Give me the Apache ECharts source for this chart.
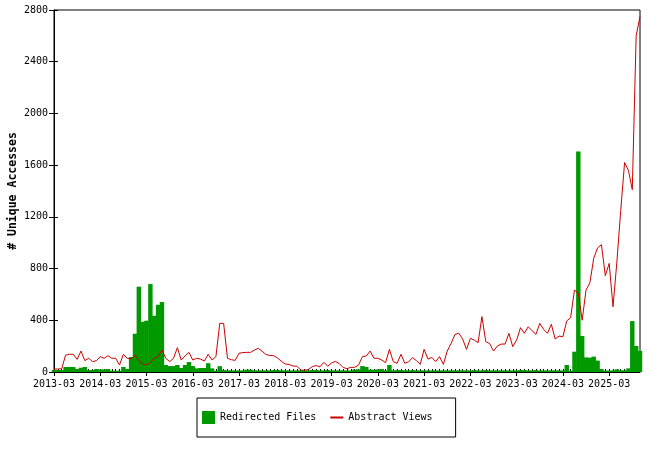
<!DOCTYPE html>
<html>
<head>
<meta charset="utf-8">
<script src="https://cdn.jsdelivr.net/npm/echarts@6/dist/echarts.min.js"></script>
<style>
  html, body { margin: 0; padding: 0; background: #fff; }
  #chart { width: 650px; height: 450px; }
</style>
</head>
<body>
<div id="chart"></div>
<script>
  // monthly, 2013-03 .. 2025-11
  const startYear = 2013, startMonth = 3, monthCount = 153
  const yTicks = [0, 400, 800, 1200, 1600, 2000, 2400, 2800]

  const redirectedFiles = [
    15, 15, 15, 39, 39, 39, 23, 33, 39, 15,
    15, 23, 20, 20, 23, 10, 10, 10, 39, 23,
    116, 296, 660, 389, 397, 680, 435, 520, 541, 54,
    46, 46, 54, 31, 54, 77, 46, 28, 31, 31,
    68, 28, 10, 45, 15, 12, 12, 12, 12, 12,
    18, 18, 12, 12, 12, 12, 12, 15, 15, 12,
    12, 12, 12, 12, 12, 12, 12, 15, 15, 12,
    12, 15, 12, 12, 12, 12, 12, 12, 20, 20,
    46, 39, 18, 18, 20, 23, 12, 54, 12, 15,
    15, 12, 12, 15, 12, 12, 12, 12, 12, 12,
    12, 12, 12, 12, 12, 12, 12, 12, 12, 15,
    12, 12, 15, 12, 12, 12, 12, 12, 12, 12,
    12, 15, 15, 12, 12, 15, 12, 12, 12, 12,
    12, 12, 12, 54, 10, 157, 1705, 278, 113, 111,
    119, 88, 23, 10, 12, 12, 21, 13, 13, 28,
    394, 201, 163
  ]

  const abstractViews = [
    23, 23, 25, 130, 137, 137, 98, 162, 88, 106,
    80, 88, 119, 106, 126, 106, 106, 54, 137, 106,
    100, 130, 90, 60, 55, 75, 106, 119, 170, 106,
    80, 106, 188, 93, 124, 152, 93, 106, 100, 85,
    137, 93, 119, 376, 376, 106, 95, 90, 145, 150,
    152, 152, 170, 183, 160, 135, 128, 126, 108, 82,
    62, 58, 46, 45, 15, 13, 20, 41, 50, 40,
    75, 45, 70, 82, 65, 35, 26, 36, 36, 54,
    119, 124, 162, 106, 106, 93, 72, 175, 80, 67,
    137, 67, 80, 111, 88, 59, 175, 100, 113, 80,
    119, 59, 162, 220, 290, 300, 255, 175, 260, 247,
    227, 428, 235, 220, 162, 201, 216, 216, 299, 196,
    247, 343, 299, 350, 320, 291, 376, 330, 299, 369,
    255, 278, 273, 395, 420, 634, 610, 400, 634, 690,
    880, 960, 985, 745, 840, 505, 850, 1250, 1620, 1560,
    1410, 2600, 2750
  ]

  let months = []
  for (let i = 0; i < monthCount; i++) {
    let m = startMonth - 1 + i
    let y = startYear + Math.floor(m / 12)
    let mm = (m % 12) + 1
    months.push(y + '-' + (mm < 10 ? '0' + mm : mm))
  }

  const mono = 'DejaVu Sans Mono'

  let dom = document.getElementById('chart')
  let myChart = echarts.init(dom, null, { renderer: 'canvas' })
  let option = {
    animation: false,
    grid: {
      left: 54,
      right: 10,
      top: 10,
      bottom: 78,
      show: true,
      borderColor: '#000',
      borderWidth: 1,
      containLabel: false,
      outerBoundsMode: 'none'
    },
    legend: {
      left: 197,
      top: 398,
      orient: 'horizontal',
      padding: [13, 23, 13, 5],
      itemGap: 13,
      itemWidth: 13,
      itemHeight: 13,
      borderColor: '#000',
      borderWidth: 1,
      textStyle: { fontFamily: mono, fontSize: 10, color: '#000' },
      data: [
        { name: 'Redirected Files', icon: 'rect' },
        { name: 'Abstract Views', itemStyle: { opacity: 0 } }
      ]
    },
    xAxis: [{
      type: 'category',
      data: months,
      boundaryGap: false,
      position: 'bottom',
      axisLine: { lineStyle: { color: '#000', width: 1 } },
      axisTick: { show: true, interval: 11, length: 4, lineStyle: { color: '#000' } },
      axisLabel: {
        interval: 11,
        margin: 7,
        color: '#000',
        fontFamily: mono,
        fontSize: 10
      },
      splitLine: { show: false }
    }, {
      // monthly minor ticks
      type: 'category',
      data: months,
      boundaryGap: false,
      position: 'bottom',
      offset: 0,
      axisLine: { show: false },
      axisTick: { show: true, interval: 0, inside: true, length: 3, lineStyle: { color: '#000' } },
      axisLabel: { show: false },
      splitLine: { show: false }
    }],
    yAxis: [{
      type: 'value',
      min: yTicks[0],
      max: yTicks[yTicks.length - 1],
      interval: 400,
      position: 'left',
      name: '# Unique Accesses',
      nameLocation: 'middle',
      nameGap: 35,
      nameMoveOverlap: false,
      nameTextStyle: { fontFamily: mono, fontSize: 11.5, fontWeight: 'bold', color: '#000' },
      axisLine: { show: true, lineStyle: { color: '#000', width: 1 } },
      axisTick: { show: true, length: 5, lineStyle: { color: '#000' } },
      axisLabel: {
        margin: 6, color: '#000', fontFamily: mono, fontSize: 10,
        formatter: function (v) { return String(v) }
      },
      splitLine: { show: false }
    }, {
      type: 'value',
      min: yTicks[0],
      max: yTicks[yTicks.length - 1],
      interval: 400,
      position: 'left',
      axisLine: { show: false },
      axisTick: { show: true, inside: true, length: 4, lineStyle: { color: '#000' } },
      axisLabel: { show: false },
      splitLine: { show: false }
    }],
    series: [{
      name: 'Redirected Files',
      type: 'bar',
      xAxisIndex: 0,
      yAxisIndex: 0,
      barWidth: '115%',
      itemStyle: { color: '#009900' },
      data: redirectedFiles
    }, {
      name: 'Abstract Views',
      type: 'line',
      xAxisIndex: 0,
      yAxisIndex: 0,
      symbol: 'none',
      lineStyle: { color: '#cc0000', width: 1 },
      itemStyle: { color: '#cc0000' },
      data: abstractViews
    }]
  }
  myChart.setOption(option)
</script>
</body>
</html>
